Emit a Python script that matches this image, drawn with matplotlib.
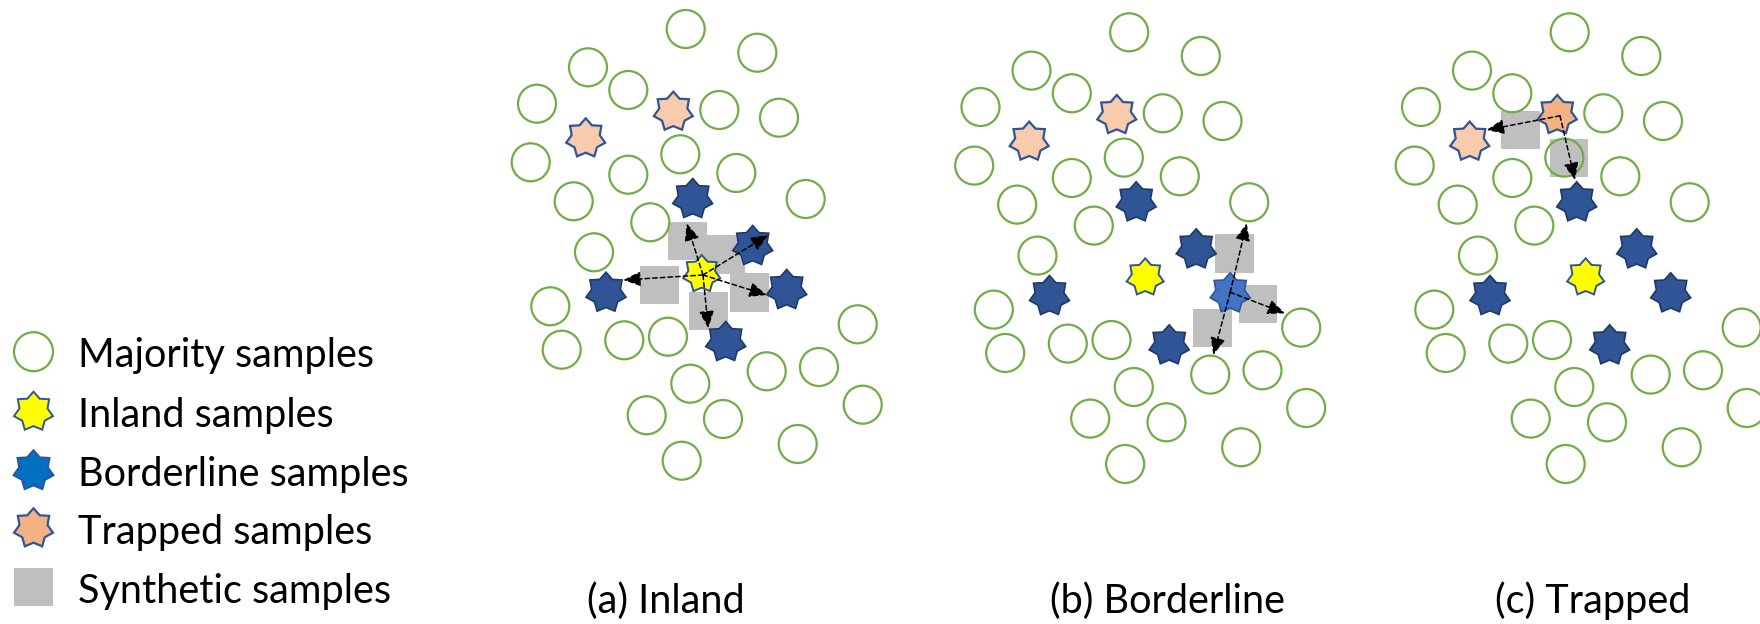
import numpy as np
import matplotlib
matplotlib.use("Agg")
from matplotlib import pyplot as plt
from matplotlib.patches import Circle, Rectangle, Polygon

plt.rcParams['font.family'] = ['Lato', 'DejaVu Sans']

# sample layout of panel (a); panels (b) and (c) reuse it shifted
MAJORITY_X = [685.7, 757.3, 588.0, 628.3, 537.0, 719.3, 779.0, 530.7, 680.3, 628.3,
              736.3, 573.7, 805.7, 650.3, 594.0, 550.3, 561.7, 624.3, 668.0, 766.7,
              819.0, 857.7, 862.7, 690.3, 646.7, 723.0, 681.7, 797.7]
MAJORITY_Y = [29.0, 52.7, 67.3, 90.0, 103.7, 110.0, 117.7, 162.3, 154.3, 174.7,
              173.0, 201.3, 199.0, 222.3, 252.3, 306.3, 349.7, 340.3, 336.7, 371.3,
              367.0, 324.3, 404.7, 383.7, 415.3, 419.0, 460.7, 444.0]
INLAND_XY = (701.7, 274.0)
BORDER_X = [692.7, 752.7, 786.7, 606.0, 725.7]
BORDER_Y = [199.0, 246.0, 290.0, 292.7, 342.0]
TRAPPED_X = [673.3, 585.7]
TRAPPED_Y = [111.7, 138.3]

PANEL_DX = [0, 443.5, 884]
PANEL_DY = [0, 3.3, 3.3]
CAPTIONS = ["(a) Inland", "(b) Borderline", "(c) Trapped"]
CAPTION_X = [666, 1167, 1593]

# synthetic samples and generation arrows per panel
SYN = [
    [(687.5, 240.8), (726.0, 254.5), (659.3, 284.8), (708.3, 310.8), (749.5, 292.3)],
    [(791.2, 250.4), (814.5, 300.7), (769.0, 324.7)],
    [(636.5, 126.5), (684.8, 154.7)],
]
ARROW_FROM = [(703.0, 275.0), (786.7, 289.0), (676.0, 112.5)]
ARROW_TO = [
    [(686.7, 223.3), (768.3, 235.0), (766.7, 295.0), (623.3, 280.0), (708.3, 328.3)],
    [(803.2, 220.0), (841.5, 310.0), (769.8, 351.7)],
    [(602.7, 126.7), (691.0, 176.7)],
]

LEGEND_LABELS = ["Majority samples", "Inland samples", "Borderline samples",
                 "Trapped samples", "Synthetic samples"]
LEGEND_Y = [351.7, 411.7, 470.7, 528.3, 587.0]

GREEN = "#70AD47"
BLUE = "#2F5597"
BLUE_EDGE = "#203864"
BLUE_HI = "#4472C4"
BLUE_LEG = "#0070C0"
YELLOW = "#FFFF00"
PEACH = "#F8CBAD"
PEACH_HI = "#F4B183"
GREY = "#BFBFBF"

R_CIRC = 19.0
SQ = 38.5
FS = 28.5


def star(ax, x, y, fc, ec, lw, R=20.5, ratio=0.72, z=3):
    t = -np.pi / 2 + np.arange(14) * np.pi / 7
    rad = np.where(np.arange(14) % 2 == 0, R, R * ratio)
    pts = np.column_stack([x + rad * np.cos(t), y + rad * np.sin(t)])
    ax.add_patch(Polygon(pts, closed=True, fc=fc, ec=ec, lw=lw, zorder=z, joinstyle='miter'))


def ring(ax, x, y):
    ax.add_patch(Circle((x, y), R_CIRC, fc='none', ec=GREEN, lw=1.6, zorder=2))


def square(ax, x, y):
    ax.add_patch(Rectangle((x - SQ / 2, y - SQ / 2), SQ, SQ, fc=GREY, ec='none', zorder=1))


fig = plt.figure(figsize=(17.6, 6.24), dpi=100)
ax = fig.add_axes([0, 0, 1, 1])
ax.set_xlim(0, 1760)
ax.set_ylim(624, 0)
ax.axis('off')

for p in range(3):
    dx, dy = PANEL_DX[p], PANEL_DY[p]
    for x, y in zip(MAJORITY_X, MAJORITY_Y):
        ring(ax, x + dx, y + dy)
    for x, y in SYN[p]:
        square(ax, x + dx, y + dy)
    star(ax, INLAND_XY[0] + dx, INLAND_XY[1] + dy, YELLOW, BLUE, 1.4, R=19)
    for i, (x, y) in enumerate(zip(BORDER_X, BORDER_Y)):
        fc = BLUE_HI if (p == 1 and i == 2) else BLUE
        ec = BLUE if (p == 1 and i == 2) else BLUE_EDGE
        star(ax, x + dx, y + dy, fc, ec, 1.2)
    for i, (x, y) in enumerate(zip(TRAPPED_X, TRAPPED_Y)):
        fc = PEACH_HI if (p == 2 and i == 0) else PEACH
        star(ax, x + dx, y + dy, fc, BLUE, 1.6, R=20)
    sx, sy = ARROW_FROM[p]
    for tx, ty in ARROW_TO[p]:
        ax.annotate('', xy=(tx + dx, ty + dy), xytext=(sx + dx, sy + dy),
                    arrowprops=dict(arrowstyle='-|>,head_length=1.05,head_width=0.45',
                                    color='black', lw=1.1, ls=(0, (3, 2)),
                                    shrinkA=0, shrinkB=0),
                    zorder=5)
    ax.text(CAPTION_X[p], 613, CAPTIONS[p], fontsize=FS, ha='center', va='baseline')

# legend
lx = 33.5
ax.add_patch(Circle((lx, LEGEND_Y[0]), 19.5, fc='none', ec=GREEN, lw=1.6))
star(ax, lx, LEGEND_Y[1], YELLOW, BLUE, 1.4, R=20)
star(ax, lx, LEGEND_Y[2], BLUE_LEG, BLUE, 1.4, R=20.5)
star(ax, lx, LEGEND_Y[3], PEACH_HI, BLUE, 1.6, R=20)
ax.add_patch(Rectangle((lx - SQ / 2, LEGEND_Y[4] - SQ / 2), SQ, SQ, fc=GREY, ec='none'))
for lab, y in zip(LEGEND_LABELS, LEGEND_Y):
    ax.text(77.7, y + 15.5, lab, fontsize=FS, ha='left', va='baseline')

fig.savefig("out.png", dpi=100)
